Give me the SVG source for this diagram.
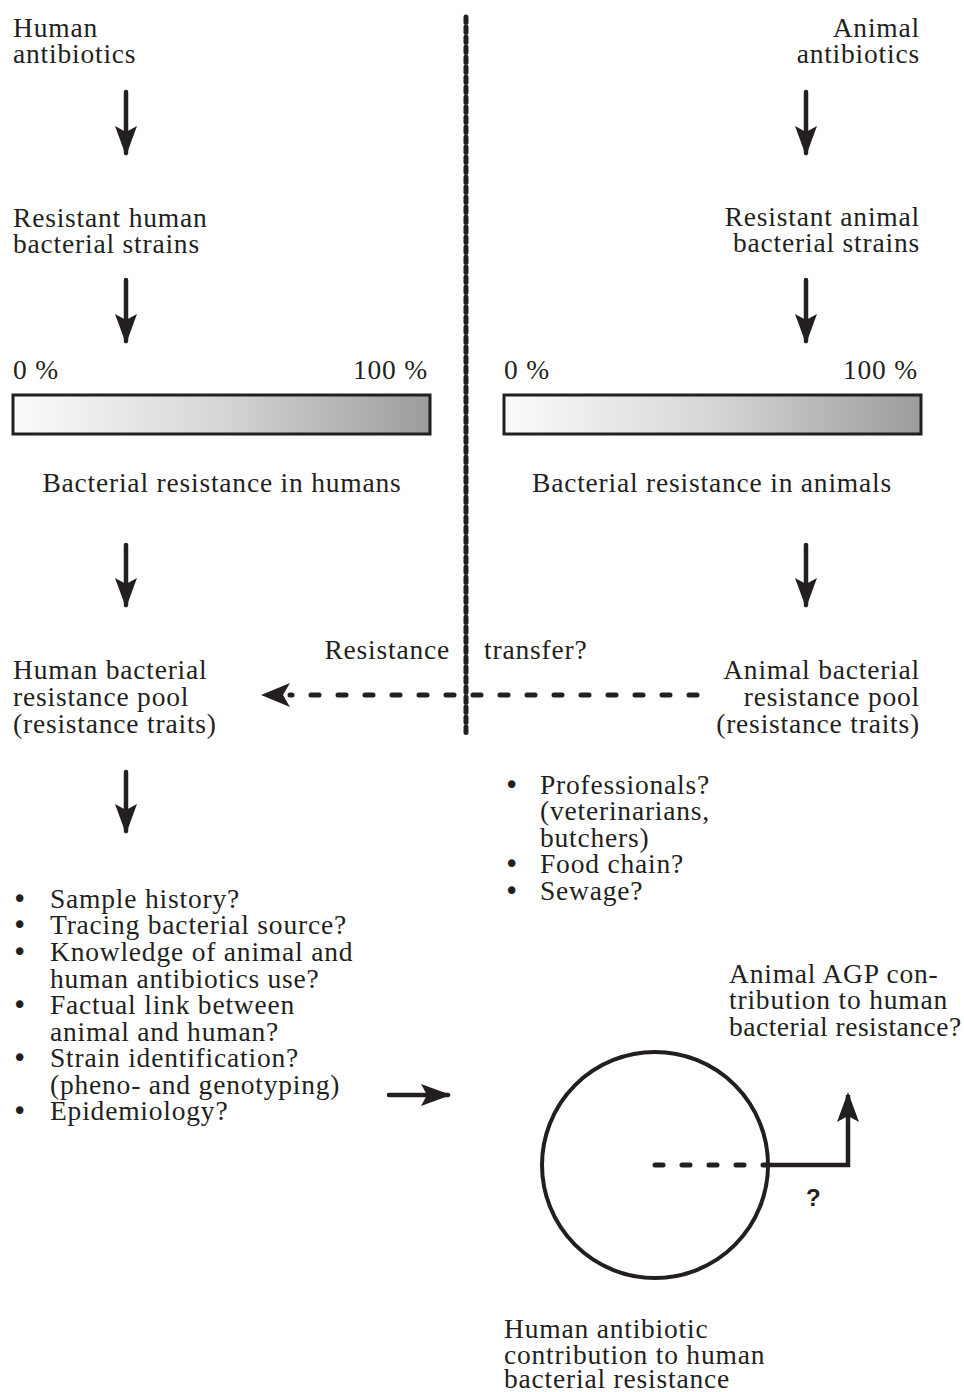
<svg xmlns="http://www.w3.org/2000/svg" width="964" height="1392" viewBox="0 0 964 1392">
<style>
text{font-family:"Liberation Serif","Times New Roman",serif;font-size:27.5px;letter-spacing:0.8px;fill:#231f20}
.r{text-anchor:end}
.m{text-anchor:middle}
.b{font-family:"DejaVu Sans",sans-serif;font-size:26px;letter-spacing:0}
.arr{stroke:#231f20;stroke-width:4.5;fill:none;stroke-linecap:round}
.bar{stroke:#231f20;stroke-width:3;fill:url(#g)}
</style>
<defs>
<linearGradient id="g" x1="0" y1="0" x2="1" y2="0">
<stop offset="0" stop-color="#fbfbfb"/>
<stop offset="0.5" stop-color="#d6d6d8"/>
<stop offset="1" stop-color="#9c9c9e"/>
</linearGradient>
<marker id="ah" viewBox="0 0 30 22" refX="27" refY="11" markerWidth="30" markerHeight="22" markerUnits="userSpaceOnUse" orient="auto">
<path d="M0,0 L30,11 L0,22 L6,11 Z" fill="#231f20"/>
</marker>
</defs>

<g id="divider">
<line x1="466" y1="17" x2="466" y2="735" stroke="#231f20" stroke-width="5" stroke-dasharray="5.5 4.5" stroke-linecap="round"/>
</g>

<g id="human-antibiotics"><text x="13" y="37">Human</text><text x="13" y="63">antibiotics</text></g>
<g id="animal-antibiotics"><text class="r" x="920" y="37">Animal</text><text class="r" x="920" y="63">antibiotics</text></g>
<g id="resistant-human"><text x="13" y="227">Resistant human</text><text x="13" y="253">bacterial strains</text></g>
<g id="resistant-animal"><text class="r" x="920" y="226">Resistant animal</text><text class="r" x="920" y="252">bacterial strains</text></g>

<g id="human-bar">
<text x="13" y="379">0 %</text><text class="r" x="428" y="379">100 %</text>
<rect class="bar" x="13" y="395" width="417" height="39"/>
<text class="m" x="222" y="492">Bacterial resistance in humans</text>
</g>
<g id="animal-bar">
<text x="504" y="379">0 %</text><text class="r" x="918" y="379">100 %</text>
<rect class="bar" x="504" y="395" width="417" height="39"/>
<text class="m" x="712" y="492">Bacterial resistance in animals</text>
</g>

<g id="human-pool"><text x="13" y="679">Human bacterial</text><text x="13" y="706">resistance pool</text><text x="13" y="733">(resistance traits)</text></g>
<g id="animal-pool"><text class="r" x="920" y="679">Animal bacterial</text><text class="r" x="920" y="706">resistance pool</text><text class="r" x="920" y="733">(resistance traits)</text></g>

<g id="transfer-label"><text class="r" x="450" y="659">Resistance</text><text x="484" y="659">transfer?</text></g>

<g id="left-list">
<text class="b" x="12" y="908">•</text><text x="50" y="908">Sample history?</text>
<text class="b" x="12" y="934">•</text><text x="50" y="934">Tracing bacterial source?</text>
<text class="b" x="12" y="961">•</text><text x="50" y="961">Knowledge of animal and</text>
<text x="50" y="988">human antibiotics use?</text>
<text class="b" x="12" y="1014">•</text><text x="50" y="1014">Factual link between</text>
<text x="50" y="1041">animal and human?</text>
<text class="b" x="12" y="1067">•</text><text x="50" y="1067">Strain identification?</text>
<text x="50" y="1094">(pheno- and genotyping)</text>
<text class="b" x="12" y="1120">•</text><text x="50" y="1120">Epidemiology?</text>
</g>

<g id="right-list">
<text class="b" x="504" y="794">•</text><text x="540" y="794">Professionals?</text>
<text x="540" y="820">(veterinarians,</text>
<text x="540" y="847">butchers)</text>
<text class="b" x="504" y="873">•</text><text x="540" y="873">Food chain?</text>
<text class="b" x="504" y="900">•</text><text x="540" y="900">Sewage?</text>
</g>

<g id="agp-label"><text x="729" y="983">Animal AGP con-</text><text x="729" y="1009">tribution to human</text><text x="729" y="1036" style="letter-spacing:0.5px">bacterial resistance?</text></g>

<g id="human-contribution">
<circle cx="655" cy="1165" r="113" fill="none" stroke="#231f20" stroke-width="4"/>
<text x="504" y="1338">Human antibiotic</text><text x="504" y="1364">contribution to human</text><text x="504" y="1388">bacterial resistance</text>
</g>

<g id="connectors">
<line class="arr" x1="126" y1="92" x2="126" y2="153" marker-end="url(#ah)"/>
<line class="arr" x1="806" y1="92" x2="806" y2="153" marker-end="url(#ah)"/>
<line class="arr" x1="126" y1="280" x2="126" y2="341" marker-end="url(#ah)"/>
<line class="arr" x1="806" y1="280" x2="806" y2="341" marker-end="url(#ah)"/>
<line class="arr" x1="126" y1="545" x2="126" y2="605" marker-end="url(#ah)"/>
<line class="arr" x1="806" y1="545" x2="806" y2="605" marker-end="url(#ah)"/>
<line class="arr" x1="126" y1="772" x2="126" y2="831" marker-end="url(#ah)"/>
<line class="arr" x1="389" y1="1095" x2="448" y2="1095" marker-end="url(#ah)"/>
<line x1="697" y1="695" x2="290" y2="695" stroke="#231f20" stroke-width="5" stroke-dasharray="8 19" stroke-linecap="round"/>
<path d="M290,683 L261,695 L290,707 L283,695 Z" fill="#231f20"/>
<line x1="655" y1="1165" x2="766" y2="1165" stroke="#231f20" stroke-width="5" stroke-dasharray="8 19" stroke-linecap="round"/>
<path d="M766,1165 H848 V1095" fill="none" stroke="#231f20" stroke-width="4.5" marker-end="url(#ah)"/>
<text x="806" y="1206" style="font-family:'Liberation Sans',Arial,sans-serif;font-weight:bold;font-size:24px;letter-spacing:0">?</text>
</g>
</svg>
